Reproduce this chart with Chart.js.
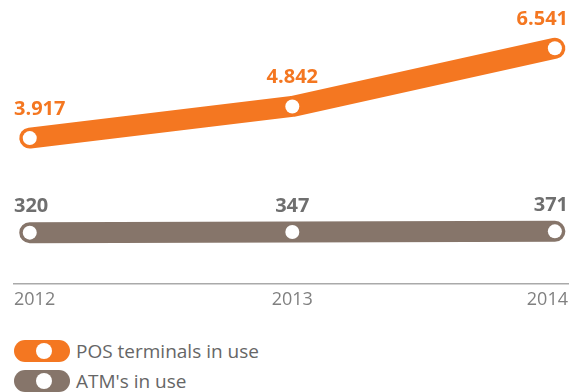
<!DOCTYPE html>
<html>
<head>
<meta charset="utf-8">
<script src="https://cdn.jsdelivr.net/npm/chart.js@4.4.0/dist/chart.umd.min.js"></script>
<style>
  body { margin: 0; background: #fff; font-family: "Open Sans", sans-serif; }
  #wrap { position: relative; width: 578px; height: 392px; overflow: hidden; }
  #chartBox { position: absolute; left: 0; top: 0; width: 578px; height: 317px; }
  .item { position: absolute; left: 14px; height: 22px; line-height: 22px; font-size: 19px; color: #666; white-space: nowrap; }
  .pill { display: inline-block; width: 56px; height: 22px; border-radius: 11px; position: relative; vertical-align: top; margin-right: 6px; }
  .pill::after { content: ''; position: absolute; left: 22px; top: 3px; width: 16px; height: 16px; border-radius: 50%; background: #fff; }
</style>
</head>
<body>
<div id="wrap">
  <div id="chartBox"><canvas id="payChart"></canvas></div>
  <div class="item" id="leg0" style="top:340px"><span class="pill"></span><span class="txt"></span></div>
  <div class="item" id="leg1" style="top:370px"><span class="pill"></span><span class="txt"></span></div>
</div>
<script>
const years = [2012, 2013, 2014];
const yearLabels = ['2012', '2013', '2014'];
const posTerminals = [3917, 4842, 6541];
const atms = [320, 347, 371];
const seriesNames = ['POS terminals in use', "ATM's in use"];

const orange = '#f47721';
const brown = '#86756a';

// thousands with a dot, like 3.917
function fmt(n) {
  return String(n).replace(/\B(?=(\d{3})+(?!\d))/g, '.');
}

// value labels above the points
const valueLabels = {
  id: 'valueLabels',
  afterDatasetsDraw(chart) {
    const ctx = chart.ctx;
    const area = chart.chartArea;
    chart.data.datasets.forEach((ds, di) => {
      const meta = chart.getDatasetMeta(di);
      ctx.save();
      ctx.font = 'bold 20px "Open Sans", sans-serif';
      ctx.fillStyle = ds.labelColor;
      ctx.textBaseline = 'middle';
      meta.data.forEach((pt, i) => {
        let x = pt.x;
        if (i === 0) { ctx.textAlign = 'left'; x = area.left; }
        else if (i === meta.data.length - 1) { ctx.textAlign = 'right'; x = area.right; }
        else ctx.textAlign = 'center';
        ctx.fillText(fmt(ds.data[i].y), x, pt.y - ds.labelOffset);
      });
      ctx.restore();
    });
  }
};

const ctx = document.getElementById('payChart').getContext('2d');

const data = {
  datasets: [{
    label: seriesNames[0],
    data: years.map((y, i) => ({ x: y, y: posTerminals[i] })),
    yAxisID: 'y',
    borderColor: orange,
    labelColor: orange,
    labelOffset: 29
  }, {
    label: seriesNames[1],
    data: years.map((y, i) => ({ x: y, y: atms[i] })),
    yAxisID: 'y2',
    borderColor: brown,
    labelColor: '#6f6f6f',
    labelOffset: 26
  }]
};

const config = {
  type: 'line',
  data: data,
  options: {
    responsive: true,
    maintainAspectRatio: false,
    animation: false,
    layout: { padding: { top: 10, left: 14, right: 10, bottom: 0 } },
    elements: {
      line: { borderWidth: 21, borderCapStyle: 'round', borderJoinStyle: 'round', tension: 0 },
      point: { radius: 7, borderWidth: 0, backgroundColor: '#fff', hoverRadius: 7 }
    },
    datasets: { line: { clip: false, fill: false } },
    plugins: {
      legend: { display: false },
      tooltip: { enabled: false }
    },
    scales: {
      x: {
        type: 'linear',
        min: 2011.94,
        max: 2014.05,
        grid: { display: false, drawTicks: false, tickLength: 0 },
        border: { display: true, color: '#aaa', width: 1.5 },
        afterBuildTicks: (scale) => {
          scale.ticks = years.map((y, i) => ({
            value: i === 0 ? scale.min : (i === years.length - 1 ? scale.max : y)
          }));
        },
        ticks: {
          align: 'inner',
          autoSkip: false,
          maxRotation: 0,
          padding: 6,
          color: '#808080',
          font: { family: '"Open Sans", sans-serif', size: 18 },
          callback: (v, i) => yearLabels[i]
        }
      },
      y: { display: false, min: -330, max: 7660 },
      y2: { display: false, min: -1693, max: 9147 }
    }
  },
  plugins: [valueLabels]
};

const payChart = new Chart(ctx, config);

// legend below the chart
[orange, brown].forEach((c, i) => {
  const el = document.getElementById('leg' + i);
  el.querySelector('.pill').style.background = c;
  el.querySelector('.txt').textContent = seriesNames[i];
});
</script>
</body>
</html>
